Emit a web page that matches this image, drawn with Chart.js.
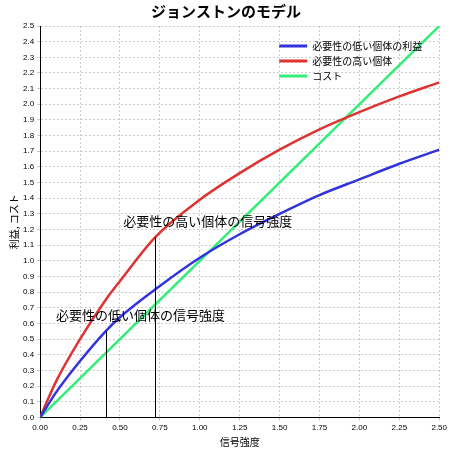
<!DOCTYPE html>
<html><head><meta charset="utf-8">
<script src="https://cdn.jsdelivr.net/npm/chart.js@4/dist/chart.umd.min.js"></script>
<style>body{margin:0;background:#fff}#wrap{width:450px;height:450px}</style>
</head><body><div id="wrap"><canvas id="c"></canvas></div>
<script>
var lowX = [0, 0.1, 0.25, 0.41, 0.5, 0.75, 1.0, 1.25, 1.5, 1.75, 2.0, 2.25, 2.5];
var lowY = [0, 0.16, 0.36, 0.55, 0.64, 0.84, 1.02, 1.17, 1.30, 1.42, 1.52, 1.62, 1.71];
var highX = [0, 0.1, 0.25, 0.41, 0.5, 0.72, 1.0, 1.25, 1.5, 1.75, 2.0, 2.25, 2.5];
var highY = [0, 0.23, 0.50, 0.75, 0.87, 1.15, 1.39, 1.56, 1.71, 1.84, 1.95, 2.05, 2.14];
var costX = [0, 2.5];
var costY = [0, 2.5];
var marks = [{x: 0.41, y: 0.55, text: '必要性の低い個体の信号強度', tx: 0.1, ty: 0.61},
             {x: 0.72, y: 1.15, text: '必要性の高い個体の信号強度', tx: 0.52, ty: 1.21}];
var font = "'Noto Sans CJK JP', sans-serif";

function pts(a, b) { return a.map(function (v, i) { return {x: v, y: b[i]}; }); }

var markPlugin = {
  id: 'marks',
  afterDatasetsDraw: function (chart) {
    var ctx = chart.ctx, sx = chart.scales.x, sy = chart.scales.y, area = chart.chartArea;
    ctx.save();
    ctx.strokeStyle = '#000'; ctx.lineWidth = 1;
    ctx.fillStyle = '#000'; ctx.font = '13px ' + font;
    ctx.textAlign = 'left'; ctx.textBaseline = 'bottom';
    marks.forEach(function (m) {
      var px = Math.round(sx.getPixelForValue(m.x)) + 0.5;
      ctx.beginPath();
      ctx.moveTo(px, sy.getPixelForValue(0));
      ctx.lineTo(px, sy.getPixelForValue(m.y));
      ctx.stroke();
      ctx.fillText(m.text, sx.getPixelForValue(m.tx), sy.getPixelForValue(m.ty));
    });
    // legend, top right inside plot
    ctx.font = '10px ' + font; ctx.textBaseline = 'middle';
    var lx = area.right - 160, ly = area.top + 20;
    chart.data.datasets.forEach(function (d, i) {
      var y = ly + i * 15;
      ctx.strokeStyle = d.borderColor; ctx.lineWidth = 3;
      ctx.beginPath(); ctx.moveTo(lx, y); ctx.lineTo(lx + 28, y); ctx.stroke();
      ctx.fillText(d.label, lx + 33, y);
    });
    ctx.restore();
  }
};

new Chart(document.getElementById('c'), {
  type: 'line',
  data: {datasets: [
    {label: '必要性の低い個体の利益', data: pts(lowX, lowY), borderColor: '#3333dd', borderWidth: 2.5, pointRadius: 0, cubicInterpolationMode: 'monotone'},
    {label: '必要性の高い個体', data: pts(highX, highY), borderColor: '#dd3333', borderWidth: 2.5, pointRadius: 0, cubicInterpolationMode: 'monotone'},
    {label: 'コスト', data: pts(costX, costY), borderColor: '#33ee77', borderWidth: 2.5, pointRadius: 0}
  ]},
  options: {
    animation: false, responsive: true, maintainAspectRatio: false,
    layout: {padding: {left: 8, right: 6, bottom: 2}},
    plugins: {
      title: {display: true, text: 'ジョンストンのモデル', color: '#000', font: {family: font, size: 15, weight: 'bold'}, padding: {top: 2, bottom: 6}},
      legend: {display: false},
      tooltip: {enabled: false}
    },
    scales: {
      x: {type: 'linear', min: 0, max: 2.5,
          title: {display: true, text: '信号強度', color: '#000', font: {family: font, size: 10}, padding: 0},
          ticks: {stepSize: 0.25, color: '#000', font: {size: 8}, callback: function (v) { return v.toFixed(2); }},
          grid: {color: '#ccc', tickLength: 3}, border: {color: '#000', dash: [2, 2]}},
      y: {min: 0, max: 2.5,
          title: {display: true, text: '利益, コスト', color: '#000', font: {family: font, size: 10}, padding: 0},
          ticks: {stepSize: 0.1, autoSkip: false, color: '#000', font: {size: 8}, callback: function (v) { return v.toFixed(1); }},
          grid: {color: '#ccc', tickLength: 3}, border: {color: '#000', dash: [2, 2]}}
    }
  },
  plugins: [markPlugin]
});
</script></body></html>
